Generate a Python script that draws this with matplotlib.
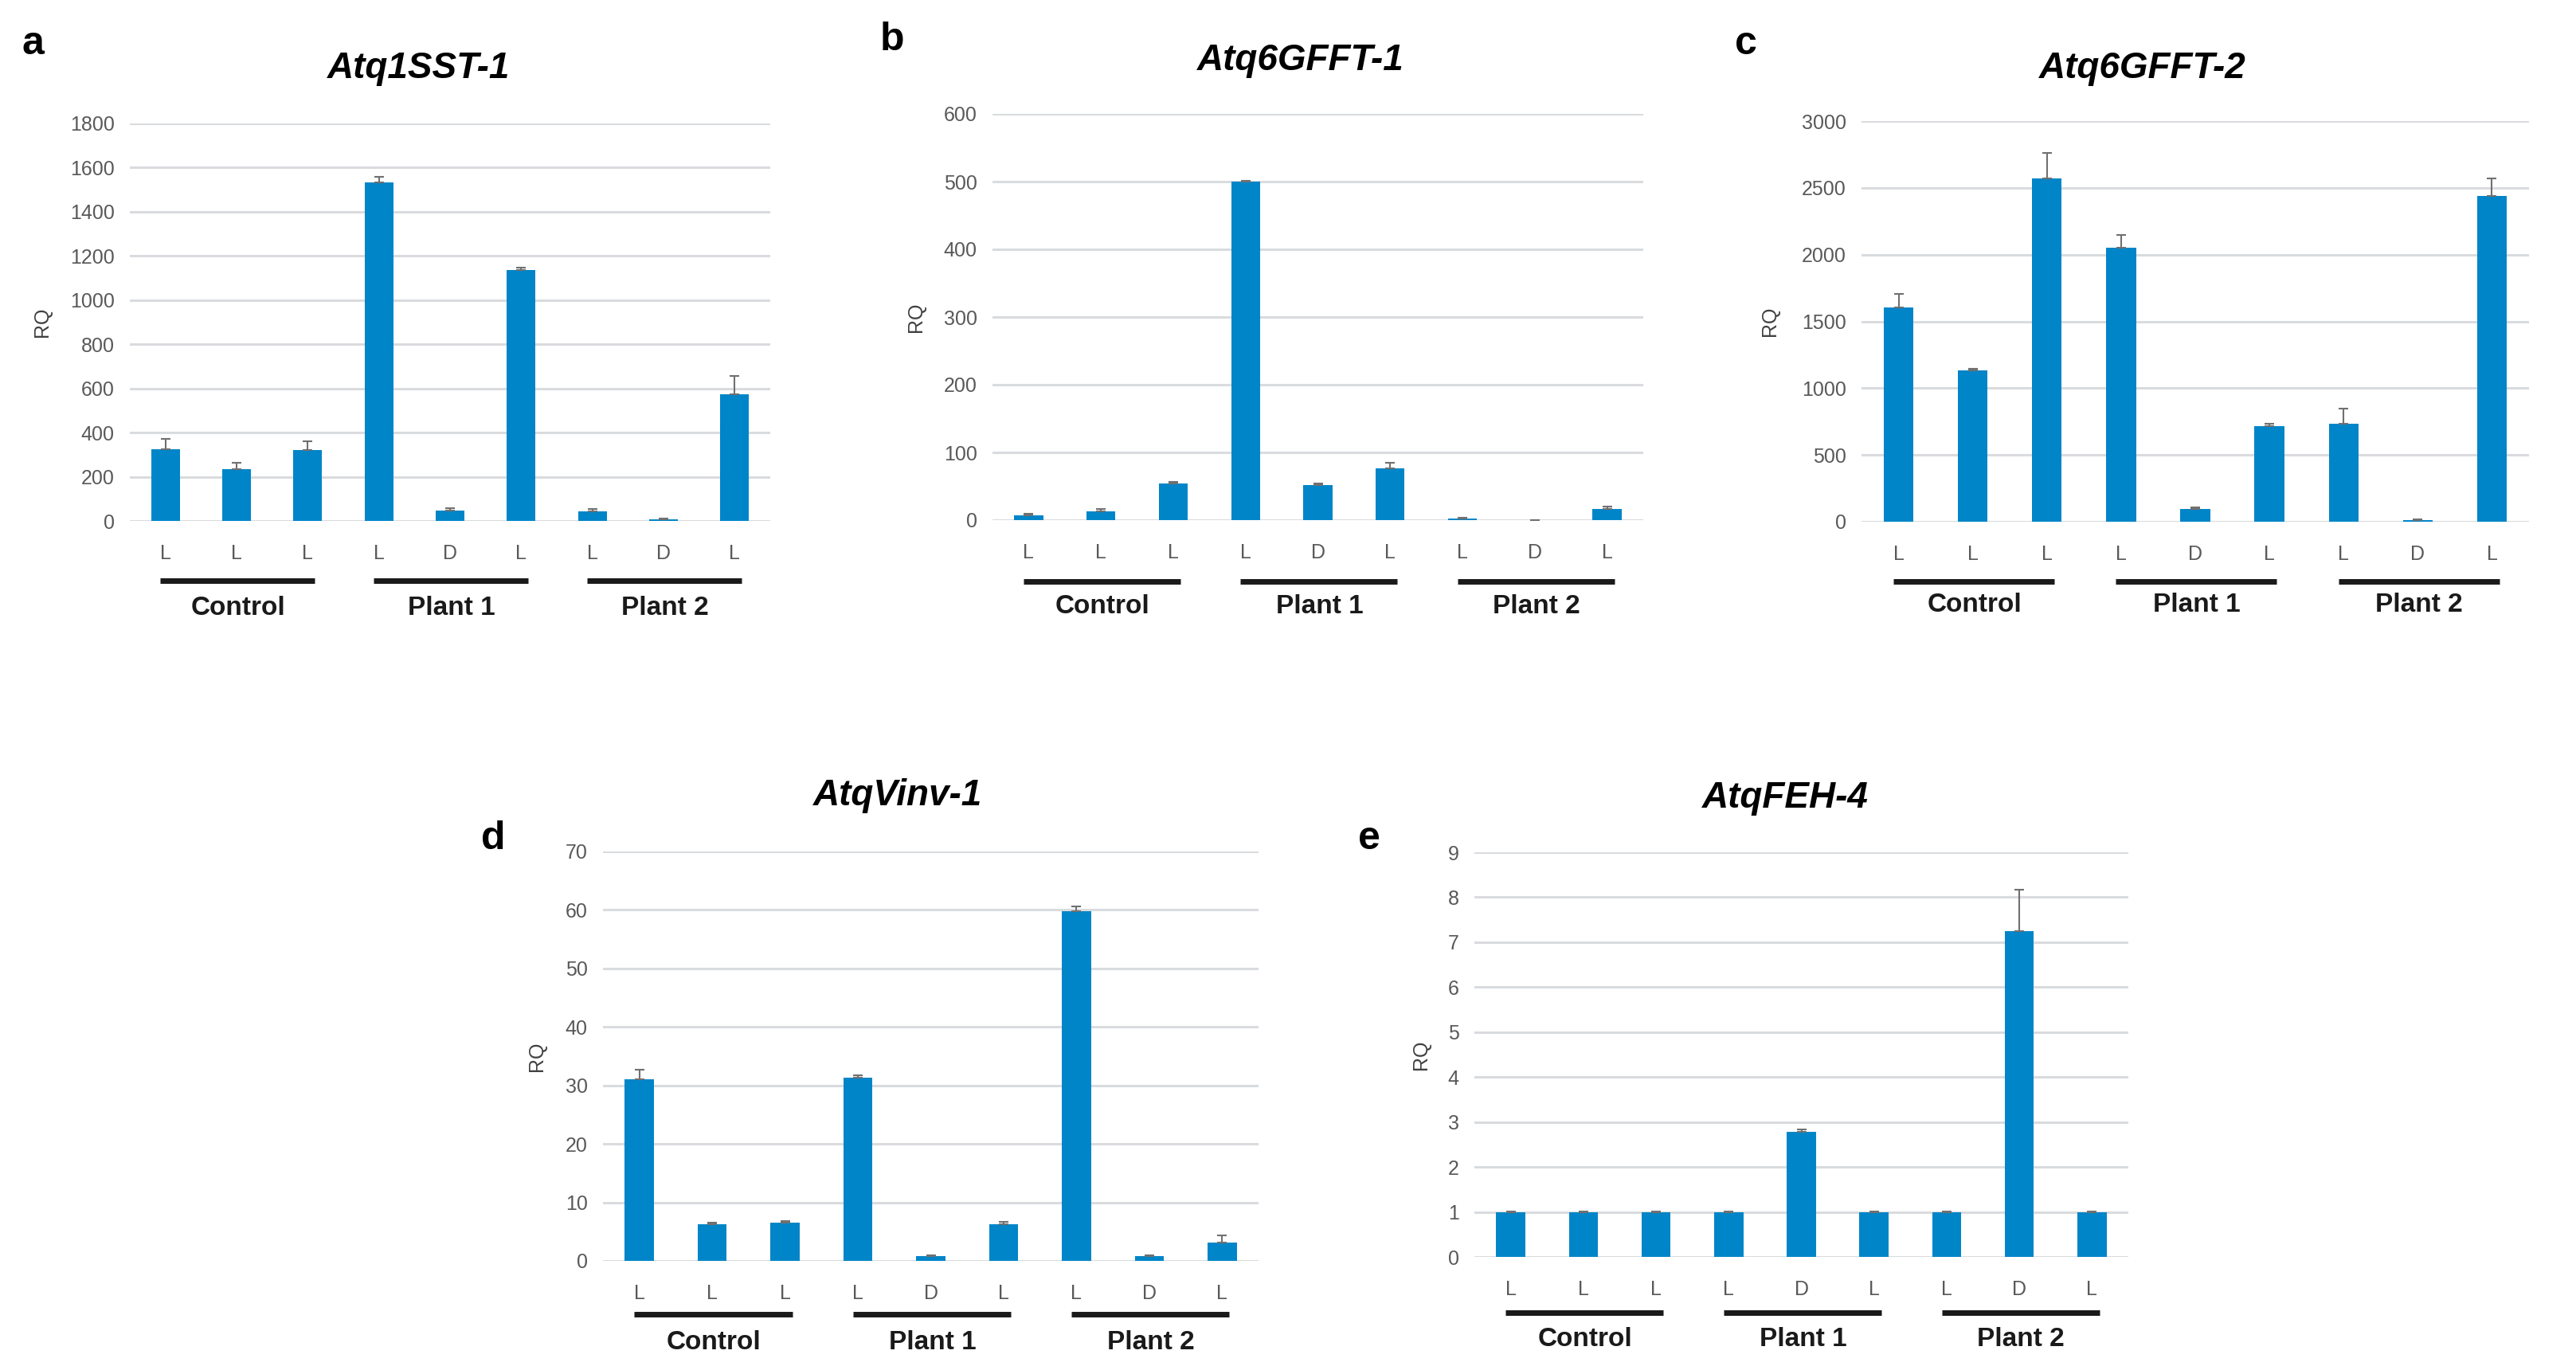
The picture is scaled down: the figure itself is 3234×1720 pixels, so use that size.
import matplotlib
matplotlib.use("Agg")
import matplotlib.pyplot as plt

plt.rcParams['font.family'] = ['Liberation Sans', 'DejaVu Sans']

# data
tissue = ["L", "L", "L", "L", "D", "L", "L", "D", "L"]
groups = ["Control", "Plant 1", "Plant 2"]
letters = ["a", "b", "c", "d", "e"]
titles = ["Atq1SST-1", "Atq6GFFT-1", "Atq6GFFT-2", "AtqVinv-1", "AtqFEH-4"]

rq_1sst1 = [324, 236, 321, 1534, 47, 1138, 42, 6, 572]
err_1sst1 = [48, 28, 41, 26, 10, 9, 11, 5, 83]
rq_6gfft1 = [7, 13.5, 54, 500, 52, 76, 1.8, 0.3, 16]
err_6gfft1 = [2, 2.5, 3, 1, 2.5, 9, 1.5, 0.2, 4]
rq_6gfft2 = [1604, 1131, 2570, 2053, 97, 716, 732, 9, 2439]
err_6gfft2 = [103, 12, 193, 97, 12, 19, 115, 10, 131]
rq_vinv1 = [31.1, 6.2, 6.6, 31.3, 0.8, 6.2, 59.8, 0.8, 3.1]
err_vinv1 = [1.6, 0.4, 0.25, 0.4, 0.2, 0.5, 0.8, 0.15, 1.3]
rq_feh4 = [1.0, 1.0, 1.0, 1.0, 2.79, 1.0, 1.0, 7.25, 1.0]
err_feh4 = [0.01, 0.01, 0.01, 0.01, 0.04, 0.01, 0.01, 0.92, 0.01]

series = [rq_1sst1, rq_6gfft1, rq_6gfft2, rq_vinv1, rq_feh4]
errors = [err_1sst1, err_6gfft1, err_6gfft2, err_vinv1, err_feh4]
ymax = [1800, 600, 3000, 70, 9]
ystep = [200, 100, 500, 10, 1]

W, H = 3234, 1720
# axes boxes in pixels: left, top, right, bottom
boxes = [(163, 155, 967, 654), (1246, 143, 2063, 653), (2337, 152, 3175, 655),
         (757, 1069, 1580, 1583), (1851, 1070, 2672, 1578)]
title_pos = [(526, 86), (1633, 76), (2690, 86), (1127, 999), (2241, 1002)]
letter_pos = [(41, 55), (1120, 50), (2192, 55), (619, 1053), (1719, 1053)]
ylab_off = [98, 84, 103, 71, 55]
line_off = [75, 77, 75, 67, 70]
label_off = [109, 108, 104, 103, 104]

blue = "#0085C8"
grey_txt = "#595959"

fig = plt.figure(figsize=(W / 100, H / 100), dpi=100)

for i in range(5):
    l, t, r, b = boxes[i]
    ax = fig.add_axes([l / W, 1 - b / H, (r - l) / W, (b - t) / H])
    x = list(range(len(tissue)))
    ax.bar(x, series[i], width=0.4, color=blue, zorder=3)
    ax.errorbar(x, series[i], yerr=[[0] * 9, errors[i]], fmt="none",
                ecolor="#707070", elinewidth=1.5, capsize=4, capthick=1.5, zorder=4)
    ax.set_xlim(-0.5, 8.5)
    ax.set_ylim(0, ymax[i])
    ticks = [k * ystep[i] for k in range(int(ymax[i] / ystep[i]) + 1)]
    ax.set_yticks(ticks)
    ax.set_yticklabels([str(v) for v in ticks])
    ax.yaxis.grid(True, color="#d9dbde", linewidth=2.2, zorder=0)
    ax.set_axisbelow(True)
    for s in ax.spines.values():
        s.set_visible(False)
    ax.set_xticks(x)
    ax.set_xticklabels(tissue)
    ax.tick_params(axis="both", length=0, labelsize=18, labelcolor=grey_txt)
    ax.tick_params(axis="x", pad=21)
    ax.tick_params(axis="y", pad=14)
    ax.set_ylabel("RQ", fontsize=18, color="#404040")
    ax.yaxis.set_label_coords(-ylab_off[i] / (r - l), 0.5)

    hpx = b - t
    trans = ax.get_xaxis_transform()
    for g, name in enumerate(groups):
        ax.plot([3 * g - 0.07, 3 * g + 2.1], [-line_off[i] / hpx] * 2, color="#1a1a1a",
                linewidth=5, solid_capstyle="butt", transform=trans, clip_on=False)
        ax.text(3 * g + 1.02, -label_off[i] / hpx, name, transform=trans, ha="center",
                va="center", fontsize=24, fontweight="bold", color="#1a1a1a")

    fig.text(title_pos[i][0] / W, 1 - title_pos[i][1] / H, titles[i], ha="center",
             va="center", fontsize=33, fontweight="bold", fontstyle="italic")
    fig.text(letter_pos[i][0] / W, 1 - letter_pos[i][1] / H, letters[i], ha="center",
             va="center", fontsize=36, fontweight="bold")

fig.savefig("out.png", dpi=100)
